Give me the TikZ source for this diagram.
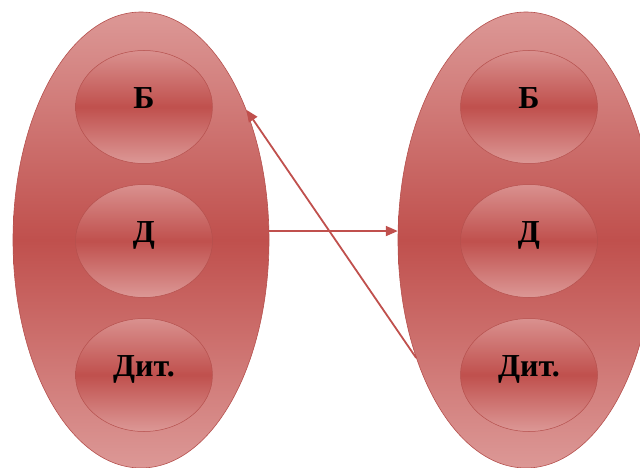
\documentclass[tikz,border=0pt]{standalone}
\usepackage{fontspec}
\setmainfont{Liberation Serif}
\usetikzlibrary{arrows.meta,shapes.geometric}
\definecolor{accred}{HTML}{C0504D}
\definecolor{lightred}{HTML}{DC9896}
\definecolor{edgered}{HTML}{B5504D}
\tikzset{
  bigell/.style={ellipse,draw=edgered,line width=.6pt,top color=lightred,bottom color=lightred,middle color=accred,minimum width=256pt,minimum height=456pt,inner sep=0pt},
  smallell/.style={ellipse,draw=edgered,line width=.5pt,top color=lightred!90!accred,bottom color=lightred,middle color=accred,minimum width=137pt,minimum height=113pt,inner sep=0pt,font=\fontsize{32}{36}\selectfont\bfseries,text height=21pt,text depth=18pt},
  conn/.style={draw=accred,line width=1.8pt,-{Triangle[length=12pt,width=10pt]}}
}
\begin{document}
\begin{tikzpicture}[x=1pt,y=-1pt]
  \useasboundingbox (0,0) rectangle (640,468); \clip (0,0) rectangle (640,468);
  \node[bigell] (L) at (141,240) {}; \node[bigell] (R) at (526,240) {};
  \node[smallell] (Lb) at (144,107) {Б}; \node[smallell] (Ld) at (144,241) {Д}; \node[smallell] (Ldit) at (144,375) {Дит.};
  \node[smallell] (Rb) at (529,107) {Б}; \node[smallell] (Rd) at (529,241) {Д}; \node[smallell] (Rdit) at (529,375) {Дит.};
  \draw[conn] (L.4) -- (R.176);
  \draw[conn] (R.227) -- (L.51);
\end{tikzpicture}
\end{document}
